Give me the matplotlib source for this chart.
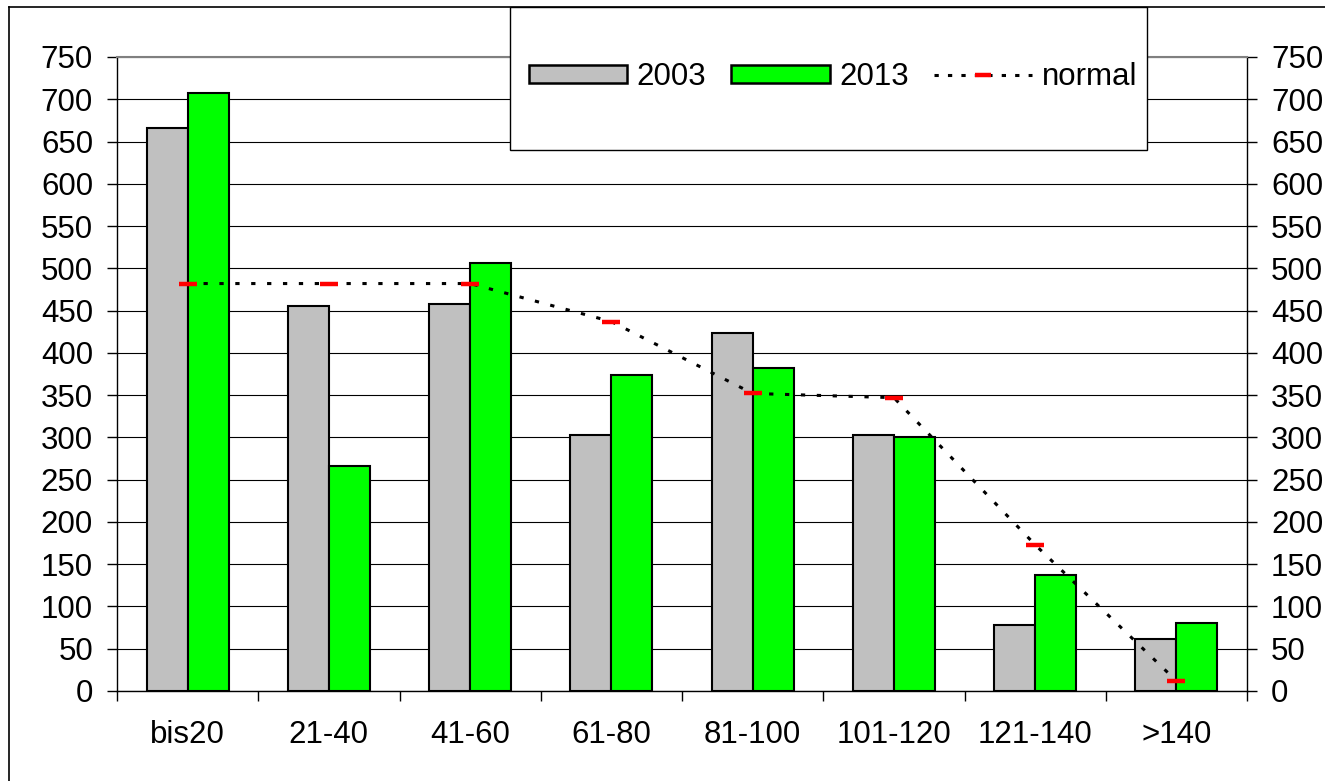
import numpy as np
import matplotlib.pyplot as plt
from matplotlib.lines import Line2D
from matplotlib.patches import Patch, Rectangle

categories = ["bis20", "21-40", "41-60", "61-80", "81-100", "101-120", "121-140", ">140"]
values_2003 = [666, 455, 458, 303, 424, 303, 78, 61]
values_2013 = [708, 266, 506, 374, 382, 301, 137, 81]
values_normal = [482, 482, 482, 437, 352, 347, 173, 12]
y_ticks = list(range(0, 751, 50))

GRAY = "#c0c0c0"
GREEN = "#00ff00"
FONT_SIZE = 22.5


def main():
    plt.rcParams["font.family"] = ["Liberation Sans", "DejaVu Sans"]

    fig = plt.figure(figsize=(13.25, 7.81), dpi=100)
    ax = fig.add_axes([117 / 1325, 1 - 691 / 781, 1130 / 1325, 634 / 781])

    x = np.arange(len(categories))
    bar_width = 0.29

    ax.bar(x - bar_width / 2, values_2003, bar_width, color=GRAY,
           edgecolor="black", linewidth=1.5, zorder=2, label="2003")
    ax.bar(x + bar_width / 2, values_2013, bar_width, color=GREEN,
           edgecolor="black", linewidth=1.5, zorder=2, label="2013")
    ax.plot(x, values_normal, color="black", linewidth=2.2,
            linestyle=(0, (1.4, 3.8)), marker="_", markersize=12.5,
            markeredgewidth=3.2, markeredgecolor="red", zorder=3, label="normal")

    ax.set_xlim(-0.5, len(categories) - 0.5)
    ax.set_ylim(0, 750)
    ax.set_yticks(y_ticks)
    ax.yaxis.grid(True, color="black", linewidth=0.8, zorder=0)
    ax.set_axisbelow(True)

    ax.set_xticks(x)
    ax.set_xticklabels(categories)
    ax.set_xticks(np.arange(-0.5, len(categories)), minor=True)
    ax.tick_params(axis="x", which="major", length=0, pad=21, labelsize=FONT_SIZE)
    ax.tick_params(axis="x", which="minor", length=7.2, width=1.0, direction="out")
    ax.tick_params(axis="y", which="major", length=7.2, width=1.0, direction="out",
                   left=True, right=True, labelleft=True, labelright=True,
                   labelsize=FONT_SIZE, pad=10)

    for side in ["left", "right", "bottom"]:
        ax.spines[side].set_color("black")
        ax.spines[side].set_linewidth(1.0)
    ax.spines["top"].set_color("#808080")
    ax.spines["top"].set_linewidth(1.5)

    # frame around the whole chart (only top and left edges are inside the image)
    fig.add_artist(Line2D([9 / 1325, 1], [1 - 7 / 781, 1 - 7 / 781],
                          color="black", linewidth=1.2))
    fig.add_artist(Line2D([9 / 1325, 9 / 1325], [0, 1 - 7 / 781],
                          color="black", linewidth=1.2))

    # legend box sits on top of the plot area
    box_x0, box_x1 = 510 / 1325, 1147 / 1325
    box_y0, box_y1 = 1 - 150 / 781, 1 - 7 / 781
    fig.add_artist(Rectangle((box_x0, box_y0), box_x1 - box_x0, box_y1 - box_y0,
                             transform=fig.transFigure, facecolor="white",
                             edgecolor="black", linewidth=1.0, zorder=5))

    handles = [
        Patch(facecolor=GRAY, edgecolor="black", linewidth=1.8),
        Patch(facecolor=GREEN, edgecolor="black", linewidth=1.8),
        Line2D([], [], color="black", linewidth=2.2, linestyle=(0, (1.4, 3.0)),
               marker="_", markersize=12, markeredgewidth=3.2, markeredgecolor="red"),
    ]
    leg = fig.legend(handles, ["2003", "2013", "normal"], ncol=3, loc="center",
                     bbox_to_anchor=(833 / 1325, 1 - 77 / 781),
                     frameon=False, fontsize=FONT_SIZE, handlelength=3.15,
                     handleheight=0.55, handletextpad=0.3, columnspacing=0.8,
                     borderpad=0)
    leg.set_zorder(6)

    fig.savefig("out.png", dpi=100)


if __name__ == "__main__":
    main()
